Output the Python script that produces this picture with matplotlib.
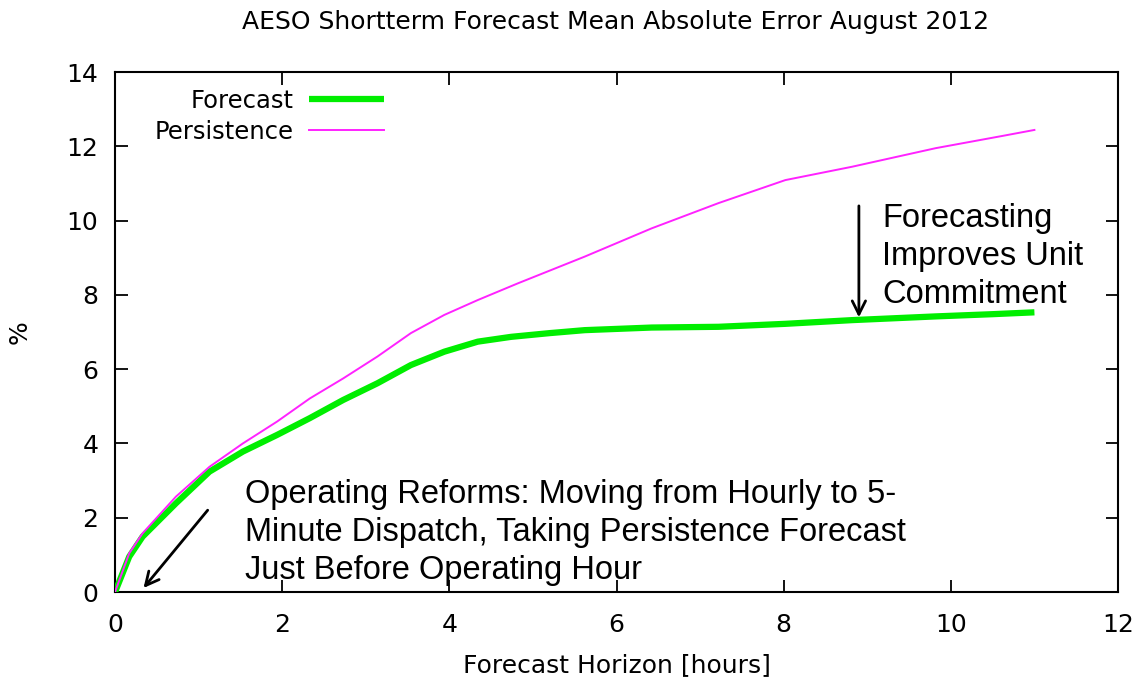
import matplotlib
matplotlib.use("Agg")
import matplotlib.pyplot as plt

# Data
forecast_x = [0.0, 0.01, 0.17, 0.33, 0.73, 1.13, 1.53, 1.94, 2.33, 2.73, 3.14, 3.54, 3.94,
              4.34, 4.74, 5.2, 5.62, 6.42, 7.22, 8.02, 8.82, 9.82, 10.5, 11.0]
forecast_y = [0.0, 0.05, 0.95, 1.49, 2.39, 3.24, 3.78, 4.23, 4.68, 5.17, 5.62, 6.11, 6.47,
              6.74, 6.87, 6.97, 7.05, 7.12, 7.14, 7.22, 7.32, 7.42, 7.48, 7.53]

persist_x = [0.0, 0.17, 0.33, 0.73, 1.13, 1.53, 1.94, 2.33, 2.73, 3.14, 3.54, 3.94, 4.34,
             4.82, 5.62, 6.42, 7.22, 8.02, 8.82, 9.82, 10.62, 11.0]
persist_y = [0.0, 1.04, 1.58, 2.57, 3.37, 4.0, 4.59, 5.21, 5.75, 6.34, 6.97, 7.46, 7.86,
             8.31, 9.03, 9.79, 10.47, 11.09, 11.45, 11.95, 12.28, 12.44]

x_ticks = [0, 2, 4, 6, 8, 10, 12]
y_ticks = [0, 2, 4, 6, 8, 10, 12, 14]

title = "AESO Shortterm Forecast Mean Absolute Error August 2012"
xlabel = "Forecast Horizon [hours]"
ylabel = "%"
note1 = "Forecasting\nImproves Unit\nCommitment"
note2 = ("Operating Reforms: Moving from Hourly to 5-\n"
         "Minute Dispatch, Taking Persistence Forecast\n"
         "Just Before Operating Hour")

fig = plt.figure(figsize=(11.4, 6.81), dpi=100)
ax = fig.add_axes([115 / 1140, 1 - 592 / 681, (1118 - 115) / 1140, (592 - 72) / 681])

ax.plot(forecast_x, forecast_y, color="#00ee00", lw=4.5, label="Forecast",
        solid_capstyle="butt", zorder=3)
ax.plot(persist_x, persist_y, color="#ff22ff", lw=1.4, label="Persistence", zorder=4)

ax.set_xlim(0, 12)
ax.set_ylim(0, 14)
ax.set_xticks(x_ticks)
ax.set_yticks(y_ticks)
ax.tick_params(direction="in", length=9, width=1.3, top=True, right=True,
               labelsize=18)
ax.tick_params(axis="x", pad=15)
ax.tick_params(axis="y", pad=12)
for s in ax.spines.values():
    s.set_linewidth(1.5)

fig.text(616 / 1140, 1 - 22 / 681, title, fontsize=18, ha="center", va="center")
ax.set_xlabel(xlabel, fontsize=18)
ax.xaxis.set_label_coords(0.5, -0.117)
ax.set_ylabel(ylabel, fontsize=18)
ax.yaxis.set_label_coords(-0.083, 0.5)

leg = ax.legend(loc="upper right", bbox_to_anchor=((384 - 115) / 1003, (592 - 89) / 520),
                frameon=False, markerfirst=False, fontsize=17.5, handlelength=3.1,
                handletextpad=0.6, labelspacing=0.28, borderaxespad=0, borderpad=0)
for t in leg.get_texts():
    t.set_ha("right")

# Annotations
ax.annotate("", xy=(8.9, 7.32), xytext=(8.9, 10.47),
            arrowprops=dict(arrowstyle="->", color="black", lw=2,
                            mutation_scale=24))
ax.text(9.18, 10.46, note1, fontsize=23.5, family="Liberation Sans",
        va="top", ha="left", linespacing=1.28)

ax.annotate("", xy=(0.32, 0.05), xytext=(1.13, 2.26),
            arrowprops=dict(arrowstyle="->", color="black", lw=2,
                            mutation_scale=24))
ax.text(1.55, 3.04, note2, fontsize=23.5, family="Liberation Sans",
        va="top", ha="left", linespacing=1.28)

fig.savefig("out.png", dpi=100)
